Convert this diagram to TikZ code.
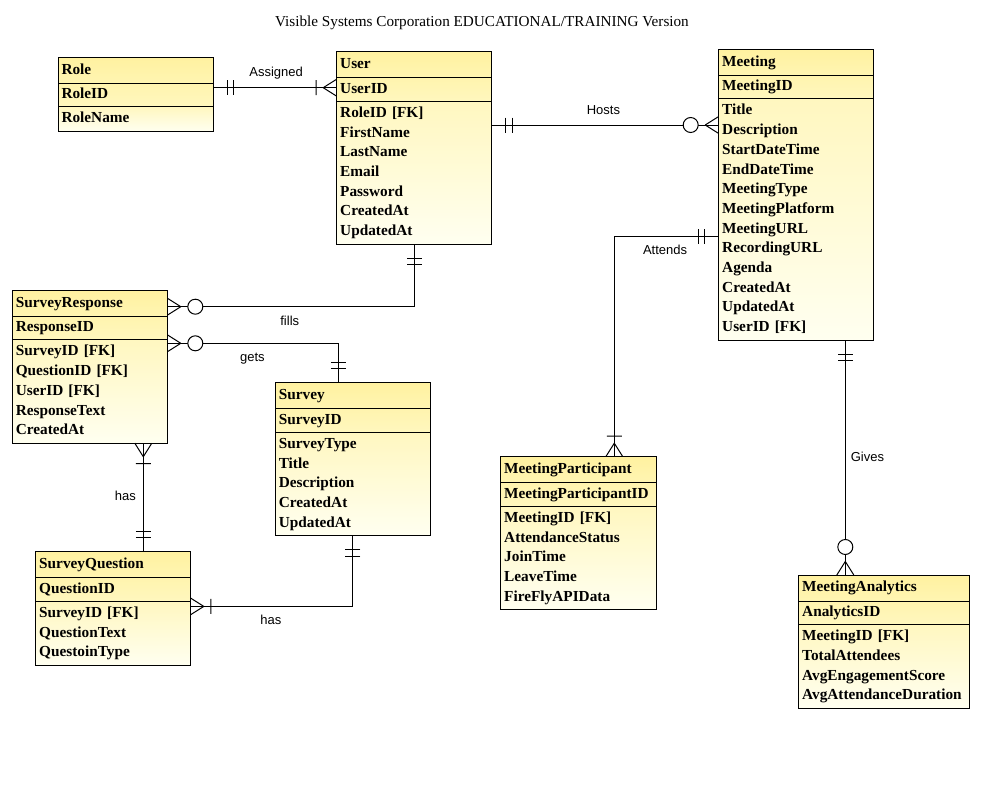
\documentclass[tikz,border=0pt]{standalone}
\usepackage{fontspec}
\setmainfont{Liberation Serif}
\newfontfamily\labelfont{Liberation Sans}
\usepackage{tikz}
\usetikzlibrary{positioning}
\usetikzlibrary{decorations.markings}

\definecolor{hdtop}{HTML}{FFF1A0}
\definecolor{hdbot}{HTML}{FFF5B2}
\definecolor{keytop}{HTML}{FFF4AE}
\definecolor{keybot}{HTML}{FFF7BE}
\definecolor{attrtop}{HTML}{FFF7C0}
\definecolor{attrbot}{HTML}{FFFFF0}

\begin{document}
\begin{tikzpicture}[x=1pt,y=-1pt,line width=1pt]
 \tikzstyle{table node}=[draw,rectangle,align=left,text width=148pt,inner xsep=3.5pt,outer sep=0pt,
   font=\bfseries\fontsize{15.3}{19.7}\selectfont,execute at begin node=\strut,execute at end node=\strut]
 \tikzstyle{head node}=[table node,anchor=north west,inner ysep=1pt,minimum height=26pt,top color=hdtop,bottom color=hdbot]
 \tikzstyle{key node}=[table node,inner ysep=1pt,minimum height=23.4pt,top color=keytop,bottom color=keybot]
 \tikzstyle{attr node}=[table node,inner ysep=2.5pt,top color=attrtop,bottom color=attrbot]
 \tikzstyle{rel label}=[inner sep=0pt,text height=9.5pt,text depth=2.5pt,font=\labelfont\fontsize{13}{15}\selectfont]
 \tikzstyle{title node}=[inner sep=0pt,font=\fontsize{15.2}{18}\selectfont]
 \tikzset{
   one only/.style={postaction={decorate,decoration={markings,
     mark=at position -20.5pt with {\draw (0pt,-7.5pt) -- (0pt,7.5pt);},
     mark=at position -14pt with {\draw (0pt,-7.5pt) -- (0pt,7.5pt);}}}},
   one many/.style={postaction={decorate,decoration={markings,
     mark=at position 0.01pt with {\draw (13.5pt,0pt) -- (0pt,8.5pt) (13.5pt,0pt) -- (0pt,-8.5pt)
       (20.5pt,-7.5pt) -- (20.5pt,7.5pt);}}}},
   zero many/.style={postaction={decorate,decoration={markings,
     mark=at position 0.01pt with {\draw (13.5pt,0pt) -- (0pt,8.5pt) (13.5pt,0pt) -- (0pt,-8.5pt);
       \draw[fill=white] (28pt,0pt) circle (7.5pt);}}}}
 }

 \useasboundingbox (0,0) rectangle (993,792);

 \node[title node] (title) at (482,23) {Visible Systems Corporation EDUCATIONAL/TRAINING Version};

 % entities
 \node[head node] (role) at (58,57.3) {Role};
 \node[key node] (role id) [below=0pt of role] {RoleID};
 \node[attr node] (role attr) [below=0pt of role id] {RoleName};

 \node[head node] (user) at (336.7,51.7) {User};
 \node[key node] (user id) [below=0pt of user] {UserID};
 \node[attr node] (user attr) [below=0pt of user id] {RoleID [FK]\\FirstName\\LastName\\Email\\Password\\CreatedAt\\UpdatedAt};

 \node[head node,text width=147.6pt] (meeting) at (718.7,49.3) {Meeting};
 \node[key node,text width=147.6pt] (meeting id) [below=0pt of meeting] {MeetingID};
 \node[attr node,text width=147.6pt] (meeting attr) [below=0pt of meeting id] {Title\\Description\\StartDateTime\\EndDateTime\\MeetingType\\MeetingPlatform\\MeetingURL\\RecordingURL\\Agenda\\CreatedAt\\UpdatedAt\\UserID [FK]};

 \node[head node] (resp) at (12.3,290.3) {SurveyResponse};
 \node[key node] (resp id) [below=0pt of resp] {ResponseID};
 \node[attr node] (resp attr) [below=0pt of resp id] {SurveyID [FK]\\QuestionID [FK]\\UserID [FK]\\ResponseText\\CreatedAt};

 \node[head node] (survey) at (275.3,382.7) {Survey};
 \node[key node] (survey id) [below=0pt of survey] {SurveyID};
 \node[attr node] (survey attr) [below=0pt of survey id] {SurveyType\\Title\\Description\\CreatedAt\\UpdatedAt};

 \node[head node,text width=147.6pt] (question) at (35.7,551.7) {SurveyQuestion};
 \node[key node,text width=147.6pt] (question id) [below=0pt of question] {QuestionID};
 \node[attr node,text width=147.6pt] (question attr) [below=0pt of question id] {SurveyID [FK]\\QuestionText\\QuestoinType};

 \node[head node,text width=148.6pt] (part) at (500.7,456.7) {MeetingParticipant};
 \node[key node,text width=148.6pt] (part id) [below=0pt of part] {MeetingParticipantID};
 \node[attr node,text width=148.6pt] (part attr) [below=0pt of part id] {MeetingID [FK]\\AttendanceStatus\\JoinTime\\LeaveTime\\FireFlyAPIData};

 \node[head node,text width=163.6pt] (analytics) at (798.7,575) {MeetingAnalytics};
 \node[key node,text width=163.6pt] (analytics id) [below=0pt of analytics] {AnalyticsID};
 \node[attr node,text width=163.6pt] (analytics attr) [below=0pt of analytics id] {MeetingID [FK]\\TotalAttendees\\AvgEngagementScore\\AvgAttendanceDuration};

 % relationships
 \coordinate (assigned) at ([yshift=1.7pt]user id.west);
 \coordinate (hosts) at ([yshift=-26.3pt]meeting attr.north west);
 \coordinate (attends) at ([yshift=-137.3pt]meeting attr.north west);
 \coordinate (gives) at ([xshift=-38.7pt]analytics.north);
 \coordinate (fills) at ([yshift=-3.4pt]resp.east);
 \coordinate (gets) at ([yshift=-3.6pt]resp attr.north east);
 \coordinate (has a) at ([xshift=53.5pt]resp attr.south);
 \coordinate (has b) at ([yshift=-5.3pt]question attr.north east);

 \draw[one many,one only] (assigned) -- (assigned -| role id.east) node[rel label,pos=0.49,above=8pt] {Assigned};
 \draw[zero many,one only] (hosts) -- (hosts -| user attr.east) node[rel label,pos=0.508,above=8pt] {Hosts};
 \draw[one many,one only] ([xshift=35.8pt]part.north) |- (attends) node[rel label,pos=0.743,below=8pt] {Attends};
 \draw[zero many,one only] (gives) -- (gives |- meeting attr.south) node[rel label,pos=0.5,right=5pt] {Gives};
 \draw[zero many,one only] (fills) -| (user attr.south) node[rel label,pos=0.248,below=8.5pt] {fills};
 \draw[zero many,one only] (gets) -| ([xshift=-14.5pt]survey.north) node[rel label,pos=0.249,below=8.4pt] {gets};
 \draw[one many,one only] (has a) -- (has a |- question.north) node[rel label,pos=0.5,left=7pt] {has};
 \draw[one many,one only] (has b) -| (survey attr.south) node[rel label,pos=0.248,below=8pt] {has};
\end{tikzpicture}
\end{document}
